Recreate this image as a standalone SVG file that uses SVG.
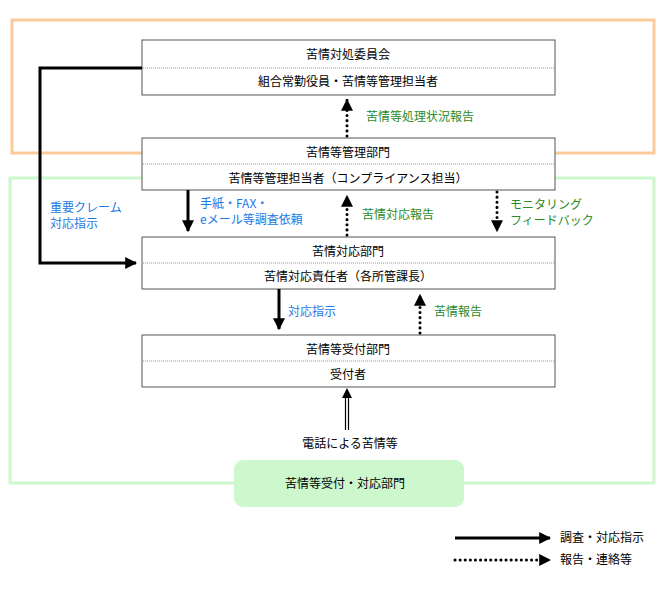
<svg xmlns="http://www.w3.org/2000/svg" width="668" height="592" viewBox="0 0 668 592">
<style>
text{font-family:"Noto Sans CJK JP","Liberation Sans",sans-serif;font-size:12px;fill:#000}
.c{text-anchor:middle}
.b{fill:#1a7ae6}.g{fill:#2a8a2a}
.box{fill:#fff;stroke:#555;stroke-width:1}
.div{stroke:#999;stroke-dasharray:1 1;stroke-width:1}
.s{stroke:#000;stroke-width:3;fill:none}
.d{stroke:#000;stroke-width:3;stroke-dasharray:0.1 5;stroke-linecap:round;fill:none}
</style>
<defs>
<marker id="a" viewBox="0 0 10 10" refX="9" refY="5" markerWidth="4" markerHeight="4" orient="auto"><path d="M0 0L10 5L0 10z" fill="#000"/></marker>
</defs>
<rect x="12" y="20" width="642" height="133" fill="none" stroke="#fbcb9c" stroke-width="3"/>
<rect x="10" y="178" width="644" height="305" fill="none" stroke="#cdf7cd" stroke-width="3"/>
<g id="n1"><rect class="box" x="142" y="40" width="413" height="55"/><line class="div" x1="143" y1="68" x2="554" y2="68"/>
<text class="c" x="348" y="59">苦情対処委員会</text><text class="c" x="348" y="86">組合常勤役員・苦情等管理担当者</text></g>
<g id="n2"><rect class="box" x="142" y="138" width="413" height="52"/><line class="div" x1="143" y1="164" x2="554" y2="164"/>
<text class="c" x="348" y="157">苦情等管理部門</text><text class="c" x="348" y="183">苦情等管理担当者（コンプライアンス担当）</text></g>
<g id="n3"><rect class="box" x="142" y="237" width="413" height="52"/><line class="div" x1="143" y1="263" x2="554" y2="263"/>
<text class="c" x="348" y="256">苦情対応部門</text><text class="c" x="348" y="281">苦情対応責任者（各所管課長）</text></g>
<g id="n4"><rect class="box" x="142" y="335" width="413" height="52"/><line class="div" x1="143" y1="361" x2="554" y2="361"/>
<text class="c" x="348" y="354">苦情等受付部門</text><text class="c" x="348" y="379">受付者</text></g>
<g id="n5"><rect x="234" y="460" width="230" height="47" rx="9" fill="#cdf7cd"/><text class="c" x="345" y="488">苦情等受付・対応部門</text></g>
<g id="edges">
<polyline class="s" points="142,68 40,68 40,263 136,263" marker-end="url(#a)"/>
<line class="d" x1="347" y1="136" x2="347" y2="100" marker-end="url(#a)"/>
<line class="s" x1="188" y1="190" x2="188" y2="231" marker-end="url(#a)"/>
<line class="d" x1="347" y1="235" x2="347" y2="196" marker-end="url(#a)"/>
<line class="d" x1="497" y1="192" x2="497" y2="231" marker-end="url(#a)"/>
<line class="s" x1="279" y1="289" x2="279" y2="329" marker-end="url(#a)"/>
<line class="d" x1="420" y1="333" x2="420" y2="295" marker-end="url(#a)"/>
<line x1="345.5" y1="430" x2="345.5" y2="398" stroke="#000" stroke-width="1.2"/>
<line x1="348.5" y1="430" x2="348.5" y2="398" stroke="#000" stroke-width="1.2"/>
<path d="M342 398L347 388L352 398z"/>
<line class="s" x1="455" y1="538" x2="550" y2="538" marker-end="url(#a)"/>
<line class="d" x1="455" y1="560" x2="550" y2="560" marker-end="url(#a)"/>
</g>
<text class="g" x="366" y="121">苦情等処理状況報告</text>
<text class="b" x="50" y="212">重要クレーム</text><text class="b" x="50" y="228">対応指示</text>
<text class="b" x="200" y="208">手紙・FAX・</text><text class="b" x="200" y="224">eメール等調査依頼</text>
<text class="g" x="362" y="219">苦情対応報告</text>
<text class="g" x="510" y="209">モニタリング</text><text class="g" x="510" y="225">フィードバック</text>
<text class="b" x="288" y="316">対応指示</text>
<text class="g" x="434" y="316">苦情報告</text>
<text class="c" x="350" y="448">電話による苦情等</text>
<text x="560" y="542">調査・対応指示</text>
<text x="560" y="564">報告・連絡等</text>
</svg>
